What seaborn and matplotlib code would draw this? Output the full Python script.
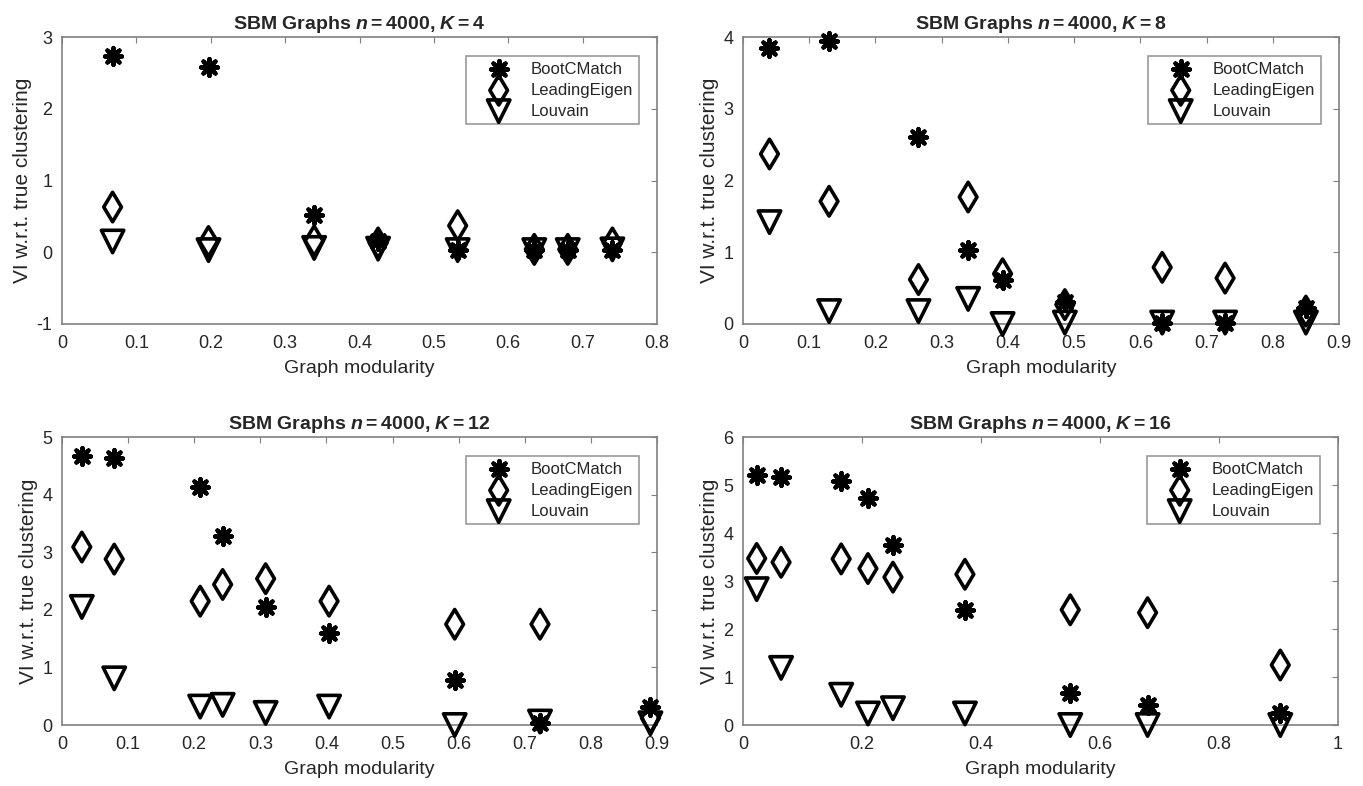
import numpy as np
import pandas as pd
import matplotlib
matplotlib.use("Agg")
import matplotlib.pyplot as plt
import seaborn as sns

# --- data ---
methods = ["BootCMatch", "LeadingEigen", "Louvain"]

k4_x = [0.068, 0.197, 0.339, 0.425, 0.532, 0.635, 0.68, 0.74]
k4_boot = [2.73, 2.58, 0.52, 0.15, 0.03, 0.03, 0.03, 0.03]
k4_eigen = [0.63, 0.15, 0.16, 0.13, 0.37, 0.04, 0.04, 0.13]
k4_louv = [0.15, 0.03, 0.06, 0.05, 0.03, 0.03, 0.03, 0.04]

k8_x = [0.04, 0.13, 0.265, 0.34, 0.392, 0.486, 0.633, 0.728, 0.85]
k8_boot = [3.85, 3.95, 2.6, 1.03, 0.62, 0.3, 0.02, 0.02, 0.22]
k8_eigen = [2.37, 1.71, 0.62, 1.77, 0.7, 0.27, 0.79, 0.64, 0.18]
k8_louv = [1.42, 0.18, 0.18, 0.35, 0.0, 0.02, 0.02, 0.02, 0.02]

k12_x = [0.030, 0.079, 0.209, 0.243, 0.308, 0.404, 0.594, 0.723, 0.89]
k12_boot = [4.67, 4.64, 4.14, 3.28, 2.05, 1.6, 0.78, 0.03, 0.32]
k12_eigen = [3.09, 2.88, 2.15, 2.44, 2.54, 2.15, 1.75, 1.75, 0.12]
k12_louv = [2.05, 0.81, 0.32, 0.35, 0.21, 0.32, 0.0, 0.06, 0.03]

k16_x = [0.023, 0.064, 0.165, 0.21, 0.252, 0.373, 0.55, 0.68, 0.903]
k16_boot = [5.21, 5.16, 5.09, 4.73, 3.74, 2.4, 0.66, 0.42, 0.24]
k16_eigen = [3.47, 3.39, 3.46, 3.26, 3.08, 3.14, 2.4, 2.34, 1.25]
k16_louv = [2.83, 1.19, 0.63, 0.24, 0.35, 0.24, 0.0, 0.0, 0.0]

panels = [
    (4, k4_x, k4_boot, k4_eigen, k4_louv, (0, 0.8), np.arange(0, 0.81, 0.1), (-1, 3)),
    (8, k8_x, k8_boot, k8_eigen, k8_louv, (0, 0.9), np.arange(0, 0.91, 0.1), (0, 4)),
    (12, k12_x, k12_boot, k12_eigen, k12_louv, (0, 0.9), np.arange(0, 0.91, 0.1), (0, 5)),
    (16, k16_x, k16_boot, k16_eigen, k16_louv, (0, 1.0), np.arange(0, 1.01, 0.2), (0, 6)),
]

sns.set_style("white")
plt.rcParams["font.family"] = ["Liberation Sans", "DejaVu Sans"]
plt.rcParams["mathtext.fontset"] = "custom"
plt.rcParams["mathtext.rm"] = "Liberation Sans:bold"
plt.rcParams["mathtext.it"] = "Liberation Sans:bold:italic"
plt.rcParams["axes.unicode_minus"] = False

fig = plt.figure(figsize=(13.63, 7.86), dpi=100)
W, H = 1363, 786
boxes = [(62, 37, 657, 324), (743, 37, 1339, 324),
         (62, 437, 657, 725), (743, 437, 1338, 725)]

edge = "#808080"
for (K, x, boot, eigen, louv, xlim, xticks, ylim), (l, t, r, b) in zip(panels, boxes):
    ax = fig.add_axes([l / W, 1 - b / H, (r - l) / W, (b - t) / H])
    df = pd.DataFrame({"mod": x, "BootCMatch": boot, "LeadingEigen": eigen, "Louvain": louv})

    sns.scatterplot(data=df, x="mod", y="BootCMatch", ax=ax, marker=(8, 2, 0),
                    s=150, color="black", linewidth=3.0, label="BootCMatch", clip_on=False, zorder=3)
    sns.scatterplot(data=df, x="mod", y="LeadingEigen", ax=ax, marker="d",
                    s=225, facecolor="none", edgecolor="black", linewidth=2.6,
                    label="LeadingEigen", clip_on=False, zorder=3)
    sns.scatterplot(data=df, x="mod", y="Louvain", ax=ax, marker="v",
                    s=260, facecolor="none", edgecolor="black", linewidth=2.6,
                    label="Louvain", clip_on=False, zorder=3)

    ax.set_xlim(*xlim)
    ax.set_ylim(*ylim)
    ax.set_xticks(xticks)
    ax.set_xticklabels([f"{v:g}" for v in xticks])
    ax.set_yticks(np.arange(ylim[0], ylim[1] + 1))
    ax.tick_params(direction="in", length=4, width=0.8, color=edge,
                   top=True, right=True, labelsize=13)
    ax.tick_params(axis="x", pad=8)
    ax.tick_params(axis="y", pad=7)
    for sp in ax.spines.values():
        sp.set_color(edge)
        sp.set_linewidth(1.2)
        sp.set_visible(True)

    ax.set_title(rf"SBM Graphs $n = 4000$, $K = {K}$", fontsize=14,
                 fontweight="bold", pad=6)
    ax.set_xlabel("Graph modularity", fontsize=14, labelpad=6)
    ax.set_ylabel("VI w.r.t. true clustering", fontsize=15, labelpad=3)

    leg = ax.legend(loc="upper right", bbox_to_anchor=(1 - 18 / (r - l), 1 - 19 / (b - t)),
                    borderaxespad=0, fancybox=False, fontsize=12, frameon=True,
                    handlelength=3.25, handletextpad=0.3, labelspacing=0.35,
                    borderpad=0.35)
    leg.get_frame().set_edgecolor(edge)
    leg.get_frame().set_linewidth(1.2)

fig.savefig("out.png", dpi=100)
